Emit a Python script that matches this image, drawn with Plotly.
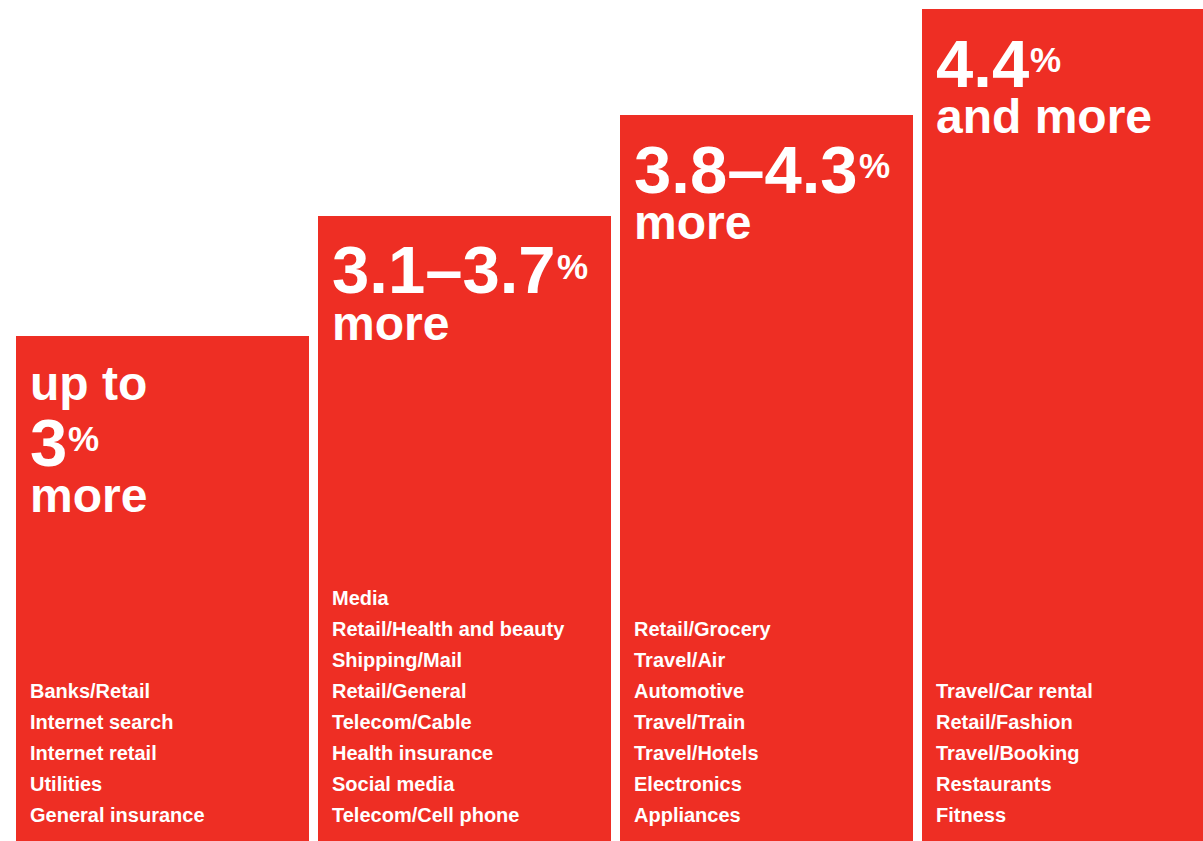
import plotly.graph_objects as go

# Four pricing tiers, drawn as stepped columns
tiers = ["up to 3%", "3.1–3.7%", "3.8–4.3%", "4.4% and more"]
bar_height = [60.0, 74.3, 86.3, 98.9]  # relative column height on a 0–100 axis

# Headline pieces per tier
lead_words = ["up to", "", "", ""]
range_figures = ["3", "3.1–3.7", "3.8–4.3", "4.4"]
tail_words = ["more", "more", "more", "and more"]

# Industries listed inside each column (top to bottom)
industries_1 = ["Banks/Retail", "Internet search", "Internet retail", "Utilities",
                "General insurance"]
industries_2 = ["Media", "Retail/Health and beauty", "Shipping/Mail", "Retail/General",
                "Telecom/Cable", "Health insurance", "Social media", "Telecom/Cell phone"]
industries_3 = ["Retail/Grocery", "Travel/Air", "Automotive", "Travel/Train",
                "Travel/Hotels", "Electronics", "Appliances"]
industries_4 = ["Travel/Car rental", "Retail/Fashion", "Travel/Booking", "Restaurants",
                "Fitness"]
industries = [industries_1, industries_2, industries_3, industries_4]

RED = "#EE2E24"
FONT = "Liberation Sans, Arial, Helvetica, sans-serif"
BAR_W = 0.9702
WORD_SIZE = 48
FIG_SIZE = 67
PCT_SIZE = 35
LIST_SIZE = 20
PAD_X = 13
MID_TO_BASE = 0.3465  # line-box centre to baseline, in em (Liberation Sans)

# advance widths (em) of Liberation Sans Bold, used to set the % sign after the figure
ADVANCE = {".": 0.278, "–": 0.556}


def text_width(s, size):
    return sum(ADVANCE.get(ch, 0.556) for ch in s) * size


fig = go.Figure(go.Bar(
    x=list(range(len(tiers))),
    y=bar_height,
    width=BAR_W,
    marker=dict(color=RED, line=dict(width=0)),
    hoverinfo="skip",
))

annotations = []


def add_line(text, x, y, size, drop_px, xshift=PAD_X, box_h=None):
    """Bold white line whose baseline sits drop_px below the column top."""
    ann = dict(
        x=x, y=y, xref="x", yref="y",
        text=text, showarrow=False,
        xanchor="left", yanchor="middle", valign="middle",
        xshift=xshift, yshift=-(drop_px - MID_TO_BASE * size),
        borderpad=0,
        font=dict(family=FONT, size=size, color="white", weight="bold"),
    )
    if box_h:
        ann["height"] = box_h
    annotations.append(ann)


for i in range(len(tiers)):
    left = i - BAR_W / 2
    top = bar_height[i]

    if lead_words[i]:
        add_line(lead_words[i], left, top, WORD_SIZE, 64)
        fig_base = 129
    else:
        fig_base = 77

    # tight boxes around the large figure so stacked lines sit close together
    add_line(range_figures[i], left, top, FIG_SIZE, fig_base, box_h=int(FIG_SIZE * 0.86))
    add_line("%", left, top, PCT_SIZE, fig_base - 15,
             xshift=PAD_X + text_width(range_figures[i], FIG_SIZE) + 1)
    add_line(tail_words[i], left, top, WORD_SIZE, fig_base + 47, box_h=int(WORD_SIZE * 0.9))

    # industry list, anchored to the bottom of the column
    for k, name in enumerate(reversed(industries[i])):
        annotations.append(dict(
            x=left, y=0, xref="x", yref="y",
            text=name, showarrow=False,
            xanchor="left", yanchor="middle",
            xshift=12.5, yshift=19 + 31 * k + MID_TO_BASE * LIST_SIZE,
            borderpad=0,
            font=dict(family=FONT, size=LIST_SIZE, color="white", weight="bold"),
        ))

fig.update_layout(
    width=1203, height=841,
    margin=dict(l=0, r=0, t=0, b=0, pad=0),
    paper_bgcolor="white", plot_bgcolor="white",
    showlegend=False,
    bargap=0,
    annotations=annotations,
    xaxis=dict(range=[-0.5381, 3.4453], visible=False, fixedrange=True),
    yaxis=dict(range=[0, 100], visible=False, fixedrange=True),
)

fig.write_html("out.html", config={"displayModeBar": False})
